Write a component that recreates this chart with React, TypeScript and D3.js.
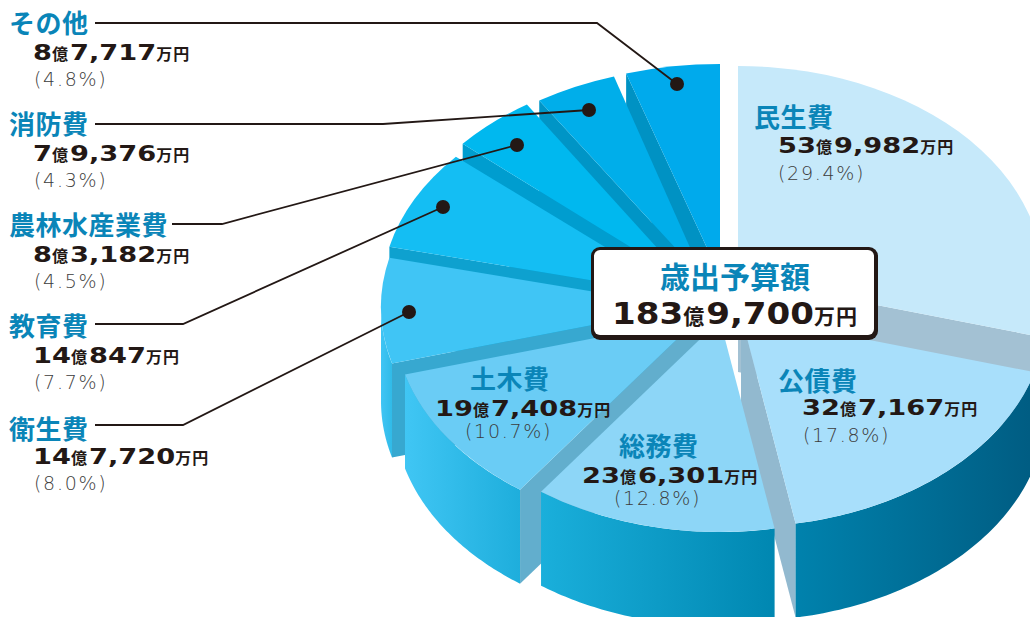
import React from "react";
import * as d3 from "d3";

const categories = ["民生費", "公債費", "総務費", "土木費", "衛生費", "教育費", "農林水産業費", "消防費", "その他"];
const amounts = [539982, 327167, 236301, 197408, 147720, 140847, 83182, 79376, 87717];
const amountLabels = ["53億9,982万円", "32億7,167万円", "23億6,301万円", "19億7,408万円", "14億7,720万円", "14億847万円", "8億3,182万円", "7億9,376万円", "8億7,717万円"];
const shareLabels = ["(29.4%)", "(17.8%)", "(12.8%)", "(10.7%)", "(8.0%)", "(7.7%)", "(4.5%)", "(4.3%)", "(4.8%)"];
const totalTitle = "歳出予算額";
const totalLabel = "183億9,700万円";

const RY = 212, DEPTH = 94;
const radiiX = [305, 305, 305, 305, 305, 305, 300, 305, 318];
const apex: [number, number][] = [[738, 278], [741, 315], [720, 320], [699, 318], [686, 307], [686, 296], [689, 283], [704, 279], [720, 276]];
const topCol = ["#c6e9fa", "#a8dffb", "#8dd6f7", "#6accf5", "#40c5f5", "#14bef3", "#00b8ef", "#00aeea", "#00aaec"];
const wallCol = ["#a3c1d3", "#92b9cf", "#62aecd", "#62aecd", "#37a8d0", "#0ea1cf", "#009dcf", "#0095c6", "#0092c3"];
const sideCol: [string, string][] = [["#005f85", "#005f85"], ["#0082ad", "#005c82"], ["#1aafdb", "#0087b1"], ["#40c6f4", "#1eaedc"], ["#40c5f5", "#30bbe8"], ["#14bef3", "#14bef3"], ["#00b8ef", "#00b8ef"], ["#00aeea", "#00aeea"], ["#00aaec", "#00aaec"]];

const ink = "#231815", teal = "#0a85b8", gray = "#3c3c3c";
const JP = '"Noto Sans CJK JP", sans-serif';
const NUM = '"DejaVu Sans", sans-serif';

// label blocks: [head x, head baseline, amount x, amount baseline, share x, share baseline]
const blocks: number[][] = [
  [754, 127, 778, 153, 778, 180], [778, 391, 802, 415, 803, 442], [619, 456, 582, 483, 614, 505], [470, 389, 435, 416, 465, 438],
  [9, 439, 33, 464, 34, 490], [9, 336, 33, 363, 34, 389], [9, 235, 33, 262, 34, 288], [9, 134, 33, 161, 34, 187], [9, 33, 33, 60, 34, 86],
];
// leaders: label end, elbow, dot for each outer label (null when the label sits on its slice)
const leaders: ([number, number][] | null)[] = [
  null, null, null, null,
  [[95, 425], [183, 425], [409, 312]], [[95, 324], [183, 324], [443, 207]], [[172, 224], [222, 224], [517, 145]], [[95, 124], [383, 124], [589, 110]], [[95, 23], [597, 23], [677, 84]],
];

const slices = d3.pie<number>().sort(null).startAngle(0).endAngle(2 * Math.PI)(amounts);
const line = d3.line();
const pt = (i: number, a: number, dz = 0): [number, number] => [apex[i][0] + radiiX[i] * Math.sin(a), apex[i][1] - RY * Math.cos(a) + dz];

function sidePath(i: number) {
  const a0 = Math.max(slices[i].startAngle, Math.PI / 2), a1 = Math.min(slices[i].endAngle, 1.5 * Math.PI);
  if (a1 <= a0) return null;
  const angles = d3.range(0, 61).map((k) => a0 + ((a1 - a0) * k) / 60);
  const pts = [...angles.map((a) => pt(i, a)), ...angles.slice().reverse().map((a) => pt(i, a, DEPTH))];
  return { d: line(pts)! + "Z", x0: Math.min(pt(i, a0)[0], pt(i, a1)[0]), x1: Math.max(pt(i, a0)[0], pt(i, a1)[0]) };
}
function wallPath(i: number) {
  const s = slices[i];
  const a = s.startAngle >= Math.PI ? s.startAngle : s.endAngle <= Math.PI ? s.endAngle : null;
  if (a === null) return null;
  const [cx, cy] = apex[i];
  return line([[cx, cy], pt(i, a), pt(i, a, DEPTH), [cx, cy + DEPTH]])! + "Z";
}

function Amount({ x, y, label, size, kanji, sx }: { x: number; y: number; label: string; size: number; kanji: number; sx: number }) {
  const runs = label.split(/(億|万円)/).filter(Boolean);
  let cur = x;
  return (
    <g>
      {runs.map((r, k) => {
        const isKanji = r === "億" || r === "万円";
        const x0 = cur;
        if (isKanji) {
          cur += r.length * (kanji + 1) + 1;
          return (
            <text key={k} x={x0} y={y} fontFamily={JP} fontWeight={700} fontSize={kanji} letterSpacing={1} fill={ink}>{r}</text>
          );
        }
        const digits = r.replace(/,/g, "").length, commas = r.length - digits;
        cur += (digits * 0.696 + commas * 0.38) * size * sx;
        return (
          <text key={k} transform={`translate(${x0},${y}) scale(${sx},1)`} fontFamily={NUM} fontWeight={700} fontSize={size} fill={ink}>{r}</text>
        );
      })}
    </g>
  );
}

export default function App() {
  // paint from the back of the staircase to the front
  const paint = [8, 7, 6, 5, 4, 3, 0, 1, 2];
  return (
    <svg width={1030} height={617} viewBox="0 0 1030 617" style={{ position: "absolute", left: 0, top: 0, background: "#fff" }}>
      <defs>
        {slices.map((_, i) => {
          const s = sidePath(i);
          return s ? (
            <linearGradient key={i} id={`side${i}`} gradientUnits="userSpaceOnUse" x1={s.x0} x2={s.x1} y1={0} y2={0}>
              <stop offset="0" stopColor={sideCol[i][0]} />
              <stop offset="1" stopColor={sideCol[i][1]} />
            </linearGradient>
          ) : null;
        })}
      </defs>

      {paint.map((i) => {
        const side = sidePath(i);
        const wall = wallPath(i);
        const arc = d3.arc<d3.PieArcDatum<number>>().innerRadius(0).outerRadius(radiiX[i]);
        return (
          <g key={i}>
            {wall && <path d={wall} fill={wallCol[i]} />}
            {side && <path d={side.d} fill={`url(#side${i})`} />}
            <path d={arc(slices[i])!} transform={`translate(${apex[i][0]},${apex[i][1]}) scale(1,${RY / radiiX[i]})`} fill={topCol[i]} />
          </g>
        );
      })}

      {leaders.map((l, i) =>
        l ? (
          <g key={i}>
            <path d={line(l)!} fill="none" stroke={ink} strokeWidth={1.8} />
            <circle cx={l[2][0]} cy={l[2][1]} r={7} fill={ink} />
          </g>
        ) : null
      )}

      {categories.map((c, i) => {
        const b = blocks[i];
        return (
          <g key={c}>
            <text x={b[0]} y={b[1]} fontFamily={JP} fontWeight={700} fontSize={26} letterSpacing={0.5} fill={teal}>{c}</text>
            <Amount x={b[2]} y={b[3]} label={amountLabels[i]} size={22} kanji={16} sx={1.24} />
            <text x={b[4]} y={b[5]} fontFamily={NUM} fontWeight={200} fontSize={19} letterSpacing={1.7} fill={gray}>{shareLabels[i]}</text>
          </g>
        );
      })}

      <rect x={591} y={247} width={287} height={93} rx={9} fill={ink} />
      <rect x={594} y={250} width={280} height={85} rx={6} fill="#fff" />
      <text x={735} y={288} textAnchor="middle" fontFamily={JP} fontWeight={700} fontSize={30} fill={teal}>{totalTitle}</text>
      <Amount x={612} y={324} label={totalLabel} size={31} kanji={21} sx={1.1} />
    </svg>
  );
}
